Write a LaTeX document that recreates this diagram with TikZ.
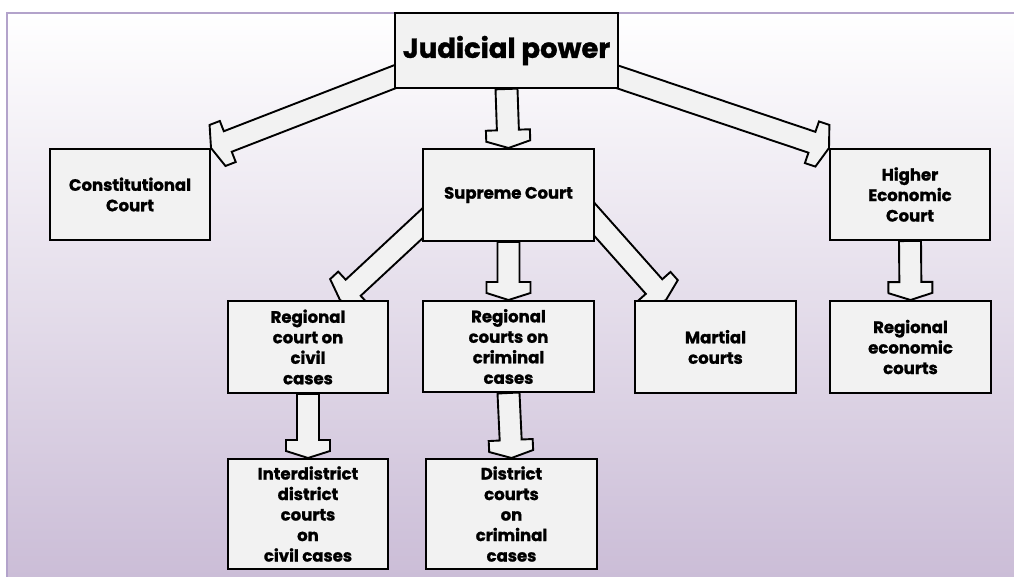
\documentclass[tikz,border=0pt]{standalone}
\usepackage{fontspec}
\setmainfont{Poppins}[BoldFeatures={FakeBold=1.2}]
\usetikzlibrary{calc}
\pgfdeclarelayer{bg}
\pgfdeclarelayer{arr}
\pgfsetlayers{bg,arr,main}
\definecolor{boxfill}{HTML}{F2F2F2}
\definecolor{framecol}{HTML}{B3A3CB}
\definecolor{shadebot}{HTML}{CBBDD7}
\tikzset{
  court/.style={draw=black, line width=2pt, fill=boxfill, align=center,
    inner sep=0pt, font=\fontsize{16.5}{20.5}\selectfont\bfseries},
  barrow/.style={draw=black, line width=1.9pt, fill=boxfill, line join=miter},
}
% block arrow from #1 to #2 (shaft 22pt wide, head 44pt wide)
\newcommand\blockarrow[2]{%
  \coordinate (ba-h) at ($(#2)!18pt!(#1)$);
  \coordinate (ba-k) at ($(#2)!7pt!(#1)$);
  \draw[barrow]
    ($(#1)!11pt!90:(#2)$) -- ($(ba-h)!11pt!-90:(#1)$) -- ($(ba-h)!22pt!-90:(#1)$)
    -- ($(ba-k)!22pt!-90:(#1)$) -- (#2) -- ($(ba-k)!22pt!90:(#1)$)
    -- ($(ba-h)!22pt!90:(#1)$) -- ($(ba-h)!11pt!90:(#1)$)
    -- ($(#1)!11pt!-90:(#2)$) -- cycle;
}
\begin{document}
\begin{tikzpicture}[x=1pt, y=-1pt]
\useasboundingbox (0,0) rectangle (1014,577);
\begin{pgfonlayer}{bg}
  \fill[white] (0,0) rectangle (1014,577);
  \shade[top color=white, bottom color=shadebot] (7,13) rectangle (1014,577);
  \draw[framecol, line width=2pt] (7,577) -- (7,13) -- (1014,13);
\end{pgfonlayer}

% courts
\node[court, minimum width=223pt, minimum height=75pt,
  font=\fontsize{27.5}{30}\selectfont\bfseries] (jp) at (506.5,50.5) {Judicial power};
\node[court, minimum width=160pt, minimum height=91pt] (cc) at (130,194.5) {Constitutional\\Court};
\node[court, minimum width=171pt, minimum height=92pt] (sc) at (508.5,195) {Supreme Court};
\node[court, minimum width=160pt, minimum height=91pt] (he) at (910,194.5) {Higher\\Economic\\Court};
\node[court, minimum width=160pt, minimum height=92pt] (rcc) at (308,347) {Regional\\court on\\civil\\cases};
\node[court, minimum width=171pt, minimum height=91pt] (rcr) at (508.5,346.5) {Regional\\courts on\\criminal\\cases};
\node[court, minimum width=161pt, minimum height=92pt] (mc) at (715.5,347) {Martial\\courts};
\node[court, minimum width=161pt, minimum height=92pt] (re) at (910.5,347) {Regional\\economic\\courts};
\node[court, minimum width=160pt, minimum height=110pt] (idc) at (308,514) {Interdistrict\\district\\courts\\on\\civil cases};
\node[court, minimum width=171pt, minimum height=110pt] (dc) at (511.5,514) {District\\courts\\on\\criminal\\cases};

% arrow roots hidden behind the boxes
\coordinate (jpL) at (420,67);
\coordinate (jpR) at (600,71);
\coordinate (scL) at (440,207);
\coordinate (scR) at (578,201);

\begin{pgfonlayer}{arr}
  \blockarrow{jpL}{cc.north east}
  \blockarrow{jp.south}{sc.north}
  \blockarrow{jpR}{he.north west}
  \blockarrow{scL}{$(rcc.north)+(32,0)$}
  \blockarrow{sc.south}{rcr.north}
  \blockarrow{scR}{$(mc.north west)+(32,0)$}
  \blockarrow{he.south}{re.north}
  \blockarrow{rcc.south}{idc.north}
  \blockarrow{rcr.south}{dc.north}
\end{pgfonlayer}
\end{tikzpicture}
\end{document}
